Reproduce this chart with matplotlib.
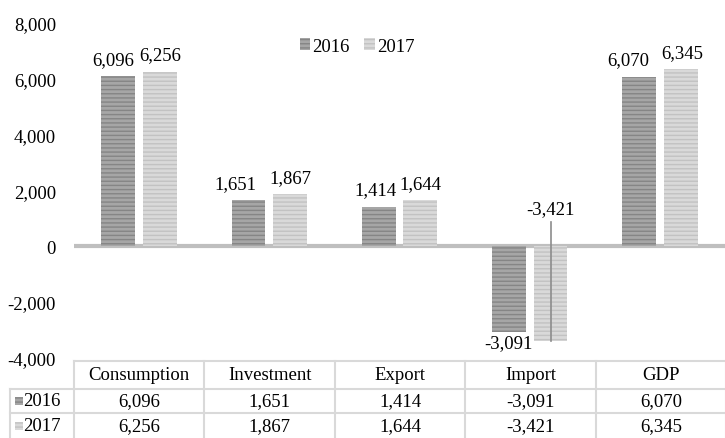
import numpy as np
import matplotlib
matplotlib.use("Agg")
import matplotlib.pyplot as plt
import matplotlib.patches as mpatches

# data
categorias = ["Consumption", "Investment", "Export", "Import", "GDP"]
anos = ["2016", "2017"]
valores_2016 = [6096, 1651, 1414, -3091, 6070]
valores_2017 = [6256, 1867, 1644, -3421, 6345]
yticks = [-4000, -2000, 0, 2000, 4000, 6000, 8000]

# estilo
FACE = {"2016": "#a6a6a6", "2017": "#d9d9d9"}
LISTRA = {"2016": "#858585", "2017": "#c2c2c2"}
COR_GRADE = "#d9d9d9"
FONTE = "Liberation Serif"
TAM = 13.5

# deslocamento horizontal dos rotulos (px) para nao se sobreporem
AJUSTE_X = {"2016": [-5, -13, -3, 0, -11], "2017": [0, 0, 0, 0, 2]}

plt.rcParams["font.family"] = [FONTE, "DejaVu Serif"]
plt.rcParams["hatch.linewidth"] = 1.0

W, H = 725, 439
fig = plt.figure(figsize=(W / 100, H / 100), dpi=100)

def fx(px):
    return px / W

def fy(px):
    return 1 - px / H

# area do grafico
ax = fig.add_axes([fx(74), fy(358.6), fx(W - 74), fy(24) - fy(358.6)])
ax.set_xlim(-0.5, len(categorias) - 0.5)
ax.set_ylim(-4000, 8000)
for s in ax.spines.values():
    s.set_visible(False)
ax.set_xticks([])
ax.set_yticks(yticks)
ax.set_yticklabels([f"{v:,}" for v in yticks], fontsize=TAM)
ax.tick_params(axis="y", length=0, pad=13)

x = np.arange(len(categorias))
largura = 0.26
desloc = 0.16

series = {"2016": valores_2016, "2017": valores_2017}
for k, (ano, vals) in enumerate(series.items()):
    pos = x + (-desloc if k == 0 else desloc)
    ax.bar(pos, vals, largura, color=FACE[ano], edgecolor=LISTRA[ano],
           hatch="----", linewidth=0, zorder=2)
    for i, (p, v) in enumerate(zip(pos, vals)):
        dx = AJUSTE_X[ano][i] * 0.72
        if v >= 0:
            ax.annotate(f"{v:,}", (p, v), xytext=(dx, 6), textcoords="offset points",
                        ha="center", va="bottom", fontsize=TAM)
        elif ano == "2016":
            ax.annotate(f"{v:,}", (p, v), xytext=(dx, -1), textcoords="offset points",
                        ha="center", va="top", fontsize=TAM)
        else:
            # rotulo deslocado com linha de chamada
            ax.plot([p, p], [v, 880], color="#8c8c8c", lw=1.2, zorder=3)
            ax.annotate(f"{v:,}", (p, 880), xytext=(dx, 3), textcoords="offset points",
                        ha="center", va="bottom", fontsize=TAM)

ax.axhline(0, color="#bfbfbf", lw=3, zorder=1)

# legenda
handles = [mpatches.Patch(facecolor=FACE[a], edgecolor=LISTRA[a], hatch="----", linewidth=0, label=a)
           for a in anos]
fig.legend(handles=handles, loc="center", bbox_to_anchor=(fx(357), fy(47)), ncol=2,
           frameon=False, fontsize=TAM, handlelength=0.55, handleheight=0.55,
           handletextpad=0.1, columnspacing=0.8)

# tabela de dados
tax = fig.add_axes([fx(10), 0, fx(W - 10), fy(362)])
col_w = 130.4
tax.set_xlim(0, W - 10)
tax.set_ylim(439, 362)
tax.axis("off")
x0 = 64  # inicio das colunas de categorias
kw = dict(color=COR_GRADE, lw=1.5, clip_on=False)
tax.plot([x0, W - 10], [362, 362], **kw)
tax.plot([0, W - 10], [390, 390], **kw)
tax.plot([0, W - 10], [414, 414], **kw)
for j in range(len(categorias) + 1):
    xx = x0 + j * col_w
    tax.plot([xx, xx], [362, 439], **kw)
tax.plot([0, 0], [390, 439], **kw)

for j, cat in enumerate(categorias):
    cx = x0 + (j + 0.5) * col_w
    tax.text(cx, 376, cat, ha="center", va="center", fontsize=TAM)
    tax.text(cx, 402, f"{valores_2016[j]:,}", ha="center", va="center", fontsize=TAM)
    tax.text(cx, 426.5, f"{valores_2017[j]:,}", ha="center", va="center", fontsize=TAM)

for r, (ano, yc) in enumerate(zip(anos, [402, 426.5])):
    tax.add_patch(mpatches.Rectangle((5, yc - 4), 8, 8, facecolor=FACE[ano],
                                     edgecolor=LISTRA[ano], hatch="----", linewidth=0))
    tax.text(13.5, yc, ano, ha="left", va="center", fontsize=TAM)

fig.savefig("out.png", dpi=100)
